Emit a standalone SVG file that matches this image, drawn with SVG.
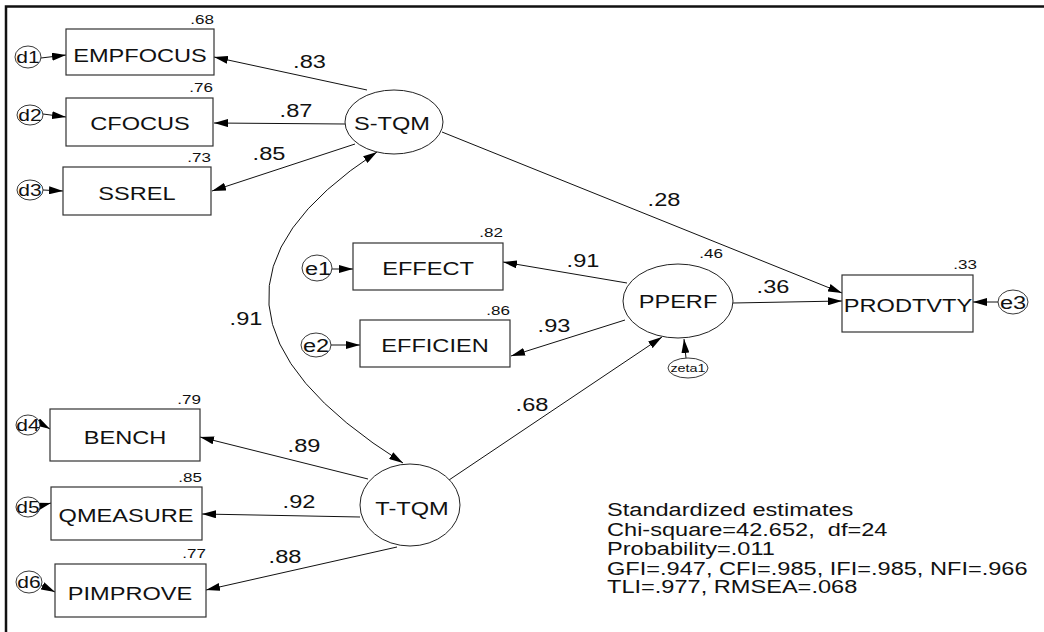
<svg xmlns="http://www.w3.org/2000/svg" width="1044" height="632" viewBox="0 0 1044 632">
<style>
.bg{fill:#fff}
.box{fill:#fff;stroke:#333;stroke-width:1.2}
.lat{fill:#fff;stroke:#222;stroke-width:1}
.err{fill:#fff;stroke:#222;stroke-width:0.9}
text{font-family:"Liberation Sans",Arial,sans-serif;fill:#111}
.lg{font-size:18px;text-anchor:middle}
.md{font-size:16px;text-anchor:middle}
.sm{font-size:13px;text-anchor:end}
.xs{font-size:11px;text-anchor:middle}
.st{font-size:18px;text-anchor:start}
.conn line,.conn path{stroke:#111;stroke-width:1;fill:none;marker-end:url(#ah)}
.conn .cov{marker-start:url(#ah)}
.frame{stroke:#111;stroke-width:2.5;fill:none}
</style>
<defs>
<marker id="ah" markerUnits="userSpaceOnUse" markerWidth="14" markerHeight="8" refX="14" refY="4" orient="auto-start-reverse"><path d="M0,0 L14,4 L0,8 z" fill="#000"/></marker>
</defs>
<rect class="bg" x="0" y="0" width="1044" height="632"/>
<path class="frame" d="M6,632 V6.5 H1044"/>

<g id="connectors" class="conn">
<line x1="367" y1="90" x2="214" y2="57"/>
<line x1="345" y1="124" x2="214" y2="123"/>
<line x1="355" y1="144" x2="212" y2="191"/>
<line x1="442" y1="132" x2="842" y2="293"/>
<line x1="627" y1="283" x2="503" y2="262"/>
<line x1="625" y1="320" x2="511" y2="356"/>
<line x1="733" y1="303" x2="842" y2="301"/>
<line x1="368" y1="479" x2="200" y2="437"/>
<line x1="360" y1="517" x2="202" y2="514"/>
<line x1="397" y1="547" x2="206" y2="590"/>
<line x1="449" y1="480" x2="662" y2="337"/>
<line x1="686" y1="358" x2="684" y2="339"/>
<line x1="332" y1="269" x2="353" y2="269"/>
<line x1="331" y1="345" x2="360" y2="345"/>
<line x1="998" y1="302" x2="973" y2="302"/>
<line x1="41" y1="58" x2="66" y2="55"/>
<line x1="43" y1="114" x2="66" y2="117"/>
<line x1="43" y1="190" x2="63" y2="191"/>
<line x1="38" y1="422" x2="50" y2="429"/>
<line x1="40" y1="506" x2="51" y2="503"/>
<line x1="41" y1="585" x2="55" y2="592"/>
<path class="cov" d="M377,152 Q148,302.5 403,463"/>
<g id="path-labels">
<text class="lg" transform="translate(309.5,68) scale(1.31,1)">.83</text>
<text class="lg" transform="translate(296,117) scale(1.31,1)">.87</text>
<text class="lg" transform="translate(269,160) scale(1.31,1)">.85</text>
<text class="lg" transform="translate(664,206) scale(1.31,1)">.28</text>
<text class="lg" transform="translate(583,267) scale(1.31,1)">.91</text>
<text class="lg" transform="translate(554,332) scale(1.31,1)">.93</text>
<text class="lg" transform="translate(773,293) scale(1.31,1)">.36</text>
<text class="lg" transform="translate(246,325) scale(1.31,1)">.91</text>
<text class="lg" transform="translate(532,411) scale(1.31,1)">.68</text>
<text class="lg" transform="translate(304,452) scale(1.31,1)">.89</text>
<text class="lg" transform="translate(299,508) scale(1.31,1)">.92</text>
<text class="lg" transform="translate(285,563) scale(1.31,1)">.88</text>
</g>
</g>

<g id="n-empfocus"><rect class="box" x="66" y="29" width="148" height="46"/><text class="lg" transform="translate(140,62) scale(1.31,1)">EMPFOCUS</text><text class="sm" transform="translate(214,24) scale(1.31,1)">.68</text></g>
<g id="n-cfocus"><rect class="box" x="66" y="98" width="147" height="48"/><text class="lg" transform="translate(140,130) scale(1.31,1)">CFOCUS</text><text class="sm" transform="translate(213,92) scale(1.31,1)">.76</text></g>
<g id="n-ssrel"><rect class="box" x="63" y="167" width="148" height="48"/><text class="lg" transform="translate(137,200) scale(1.31,1)">SSREL</text><text class="sm" transform="translate(211,162) scale(1.31,1)">.73</text></g>
<g id="n-effect"><rect class="box" x="353" y="243" width="150" height="47"/><text class="lg" transform="translate(428,275) scale(1.31,1)">EFFECT</text><text class="sm" transform="translate(503,237) scale(1.31,1)">.82</text></g>
<g id="n-efficien"><rect class="box" x="360" y="320" width="150" height="47"/><text class="lg" transform="translate(435,352) scale(1.31,1)">EFFICIEN</text><text class="sm" transform="translate(510,315) scale(1.31,1)">.86</text></g>
<g id="n-prodtvty"><rect class="box" x="842" y="275" width="131" height="57"/><text class="lg" transform="translate(908,312) scale(1.31,1)">PRODTVTY</text><text class="sm" transform="translate(977,269) scale(1.31,1)">.33</text></g>
<g id="n-bench"><rect class="box" x="50" y="409" width="150" height="52"/><text class="lg" transform="translate(125,444) scale(1.31,1)">BENCH</text><text class="sm" transform="translate(201,404) scale(1.31,1)">.79</text></g>
<g id="n-qmeasure"><rect class="box" x="51" y="487" width="151" height="53"/><text class="lg" transform="translate(126,522) scale(1.31,1)">QMEASURE</text><text class="sm" transform="translate(202,482) scale(1.31,1)">.85</text></g>
<g id="n-pimprove"><rect class="box" x="55" y="564" width="151" height="53"/><text class="lg" transform="translate(130,600) scale(1.31,1)">PIMPROVE</text><text class="sm" transform="translate(206,558) scale(1.31,1)">.77</text></g>

<g id="n-stqm"><ellipse class="lat" cx="394" cy="122" rx="49" ry="32"/><text class="lg" transform="translate(392,130) scale(1.31,1)">S-TQM</text></g>
<g id="n-pperf"><ellipse class="lat" cx="678" cy="301" rx="55" ry="37"/><text class="lg" transform="translate(678,308) scale(1.31,1)">PPERF</text><text class="sm" transform="translate(723,258) scale(1.31,1)">.46</text></g>
<g id="n-ttqm"><ellipse class="lat" cx="410" cy="505" rx="50" ry="41"/><text class="lg" transform="translate(412,515) scale(1.31,1)">T-TQM</text></g>

<g id="n-d1"><ellipse class="err" cx="28" cy="57" rx="13" ry="11"/><text class="md" transform="translate(28,63) scale(1.31,1)">d1</text></g>
<g id="n-d2"><ellipse class="err" cx="30" cy="115" rx="13" ry="10"/><text class="md" transform="translate(30,121) scale(1.31,1)">d2</text></g>
<g id="n-d3"><ellipse class="err" cx="30" cy="190" rx="13" ry="10"/><text class="md" transform="translate(30,196) scale(1.31,1)">d3</text></g>
<g id="n-d4"><ellipse class="err" cx="28" cy="425" rx="12" ry="10"/><text class="md" transform="translate(28,431) scale(1.31,1)">d4</text></g>
<g id="n-d5"><ellipse class="err" cx="28" cy="507" rx="12" ry="10"/><text class="md" transform="translate(28,513) scale(1.31,1)">d5</text></g>
<g id="n-d6"><ellipse class="err" cx="29" cy="582" rx="13" ry="11"/><text class="md" transform="translate(29,588) scale(1.31,1)">d6</text></g>
<g id="n-e1"><ellipse class="err" cx="317" cy="268" rx="15" ry="13"/><text class="lg" transform="translate(318,275) scale(1.31,1)">e1</text></g>
<g id="n-e2"><ellipse class="err" cx="316" cy="345" rx="15" ry="12"/><text class="lg" transform="translate(316,352) scale(1.31,1)">e2</text></g>
<g id="n-e3"><ellipse class="err" cx="1013" cy="302" rx="15" ry="12"/><text class="lg" transform="translate(1013,309) scale(1.31,1)">e3</text></g>
<g id="n-zeta1"><ellipse class="err" cx="688" cy="368" rx="20" ry="10"/><text class="xs" transform="translate(688,372) scale(1.31,1)">zeta1</text></g>

<g id="fit-stats">
<text class="st" transform="translate(607,516) scale(1.31,1)">Standardized estimates</text>
<text class="st" transform="translate(607,536) scale(1.31,1)" xml:space="preserve">Chi-square=42.652,  df=24</text>
<text class="st" transform="translate(607,555) scale(1.31,1)">Probability=.011</text>
<text class="st" transform="translate(607,575) scale(1.31,1)">GFI=.947, CFI=.985, IFI=.985, NFI=.966</text>
<text class="st" transform="translate(607,593) scale(1.31,1)">TLI=.977, RMSEA=.068</text>
</g>
</svg>
